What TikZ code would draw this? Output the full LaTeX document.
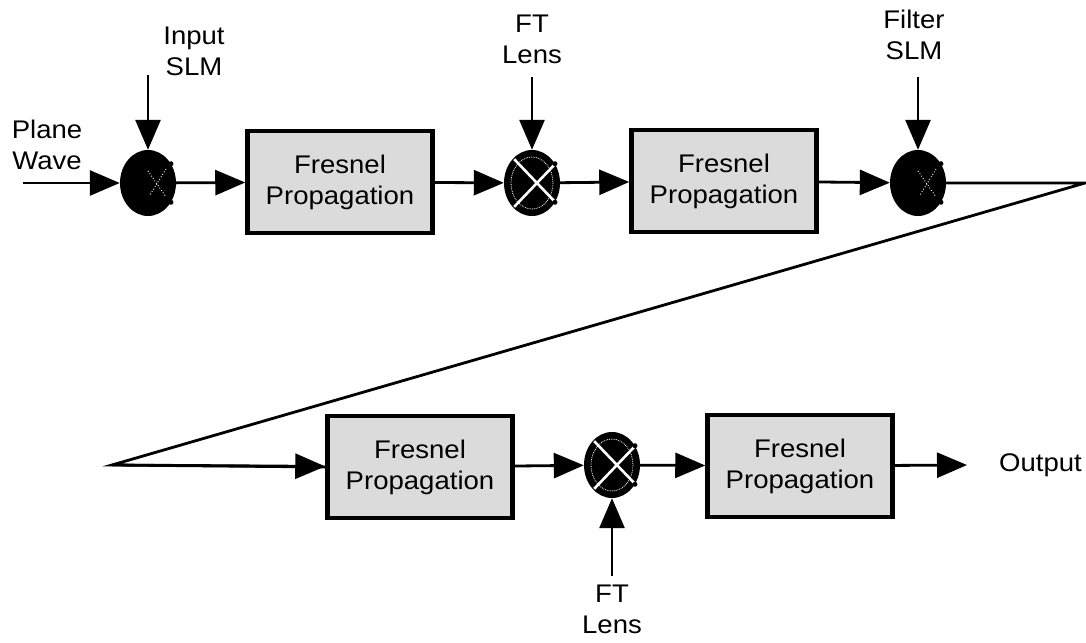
\documentclass[tikz,border=0pt]{standalone}
\usepackage{fontspec}
\setmainfont{Liberation Sans}[FakeStretch=1.08]
\usetikzlibrary{arrows.meta,shapes.geometric}
\begin{document}
\begin{tikzpicture}[x=1pt,y=-1pt,
  every node/.style={font=\fontsize{25.5}{31}\selectfont},
  line/.style={line width=2.8pt},
  arr/.style={line,-{Triangle[length=30pt,width=25pt]}},
  prop/.style={draw,line width=4.5pt,fill=black!14,minimum width=185pt,minimum height=102pt,align=center,inner sep=0pt},
  elem/.style={ellipse,fill=black,minimum width=56pt,minimum height=66pt,inner sep=0pt},
  lbl/.style={align=center,inner sep=0pt,anchor=north},
  lensx/.style={white,line width=2.6pt},
  specks/.style={white,dotted,line width=0.9pt}]
\useasboundingbox (0,0) rectangle (1086,642);

% elements
\node[elem] (c1) at (148,183) {};
\node[elem] (c2) at (532,183) {};
\node[elem] (c3) at (918,183) {};
\node[elem] (c4) at (612,465) {};

\node[prop] (b1) at (340,182) {Fresnel\\Propagation};
\node[prop] (b2) at (724,181) {Fresnel\\Propagation};
\node[prop] (b3) at (420,467) {Fresnel\\Propagation};
\node[prop] (b4) at (800,466) {Fresnel\\Propagation};

% lens crosses
\foreach \n in {c2,c4}{
  \begin{scope}
    \clip (\n) ellipse [x radius=27, y radius=32];
    \draw[lensx] ([shift={(-18,-24)}]\n.center) -- ([shift={(26,22)}]\n.center);
    \draw[lensx] ([shift={(26,-22)}]\n.center) -- ([shift={(-18,24)}]\n.center);
    \draw[white,densely dotted,line width=0.8pt] (\n) ellipse [x radius=21, y radius=26];
  \end{scope}
}
% SLM specks
\foreach \n in {c1,c3}{
  \draw[specks] ([shift={(0,-12)}]\n.center) -- ([shift={(18,14)}]\n.center);
  \draw[specks] ([shift={(18,-14)}]\n.center) -- ([shift={(2,12)}]\n.center);
}
% small bumps
\foreach \n in {c1,c2,c3,c4}{
  \fill (\n.40) circle (2.5);
  \fill (\n.-40) circle (2.5);
}

% labels
\node[lbl] (pw) at (47,120) {Plane\\Wave};
\node[lbl] (islm) at (194,27) {Input\\SLM};
\node[lbl] (ft1) at (532,15) {FT\\Lens};
\node[lbl] (fslm) at (914,10) {Filter\\SLM};
\node[lbl] (ft2) at (612,585) {FT\\Lens};
\node[anchor=west,inner sep=0pt] (out) at (999,465) {Output};

% connector ends
\coordinate (pws) at (23,183);
\coordinate (is) at (148,75);
\coordinate (f1s) at (532,77);
\coordinate (fss) at (918,77);
\coordinate (f2s) at (612,576);
\coordinate (tr) at (1085,183);
\coordinate (bl) at (112,465);
\coordinate (oe) at (967,465);

% connectors
\draw[arr] (pws) -- (c1);
\draw[arr] (is) -- (c1);
\draw[arr] (c1) -- (b1);
\draw[arr] (b1) -- (c2);
\draw[arr] (f1s) -- (c2);
\draw[arr] (c2) -- (b2);
\draw[arr] (b2) -- (c3);
\draw[arr] (fss) -- (c3);
\draw[line,line join=miter] (c3) -- (tr) -- (bl) -- (b3.west);
\draw[arr] (bl) -- (b3);
\draw[arr] (b3) -- (c4);
\draw[arr] (f2s) -- (c4);
\draw[arr] (c4) -- (b4);
\draw[arr] (b4) -- (oe);
\end{tikzpicture}
\end{document}
